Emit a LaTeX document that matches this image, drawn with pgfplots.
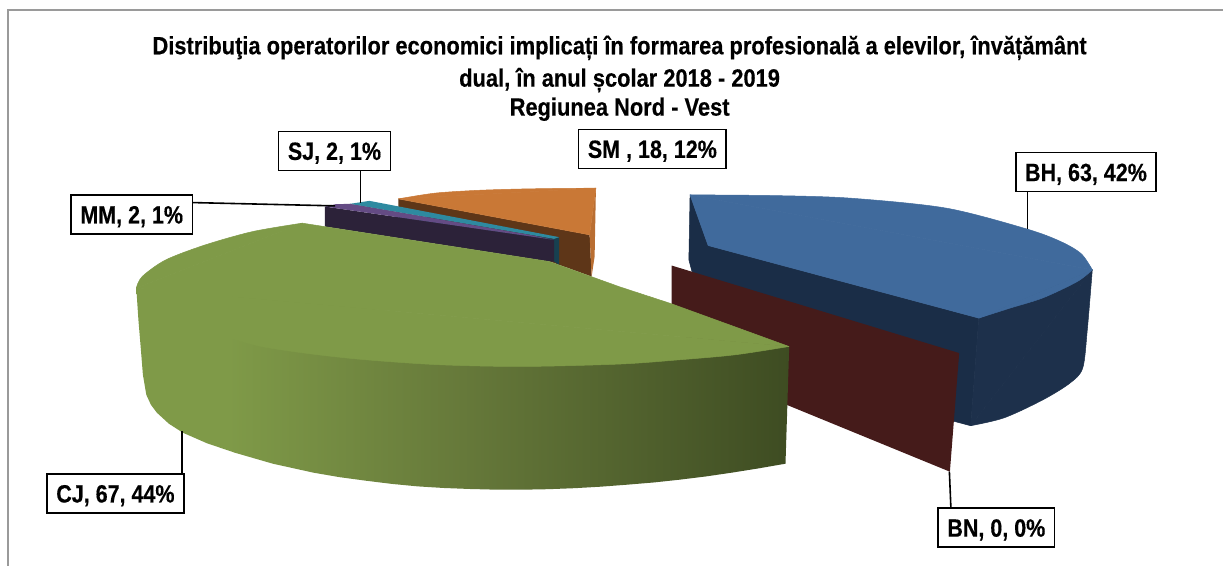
\documentclass[border=0pt]{standalone}
\usepackage{pgfplots}
\pgfplotsset{compat=1.18}
\usepackage{fontspec}
\setmainfont{Liberation Sans}[BoldFeatures={FakeBold=0.4}]
\definecolor{bluetop}{HTML}{406A9C}
\definecolor{bluedark}{HTML}{1A2D47}
\definecolor{blueouter}{HTML}{1D304B}
\definecolor{maroon}{HTML}{451B1A}
\definecolor{greentop}{HTML}{7F9A48}
\definecolor{greenmid}{HTML}{66793A}
\definecolor{greendark}{HTML}{3E4C22}
\definecolor{orangetop}{HTML}{C97836}
\definecolor{brownside}{HTML}{5E3618}
\definecolor{purpletop}{HTML}{644B84}
\definecolor{purpledark}{HTML}{2C2239}
\definecolor{tealtop}{HTML}{2E8AA0}
\definecolor{tealdark}{HTML}{174050}
\definecolor{framegray}{HTML}{9A9A9A}
\pgfdeclarehorizontalshading{greenside}{100bp}{color(0bp)=(greentop); color(25bp)=(greentop); color(32bp)=(greentop); color(50bp)=(greenmid); color(75bp)=(greendark); color(100bp)=(greendark)}
\newcommand{\lab}[1]{\fontsize{25}{25}\selectfont\bfseries\scalebox{0.86}[1]{#1}}
\newcommand{\ttl}[1]{\fontsize{25}{25}\selectfont\bfseries\scalebox{0.875}[1]{#1}}
\tikzset{pc/.style={draw=#1, fill=#1, line width=0.5pt, line join=round}}
\begin{document}
\begin{tikzpicture}
\begin{axis}[
  scale only axis, width=1224pt, height=566pt,
  xmin=0, xmax=1224, ymin=0, ymax=566, y dir=reverse,
  enlargelimits=false, hide axis, clip=false]
% background and frame
\addplot[draw=none, fill=white] coordinates {(0,0)(1224,0)(1224,566)(0,566)} -- cycle;
\addplot[framegray, line width=1.6pt] coordinates {(8,566)(8,10)(1224,10)};
% SM
\addplot[draw=none, fill=brownside] coordinates {(398.6,199)(590,235)(592,276.7)(559.5,265)(398.6,207)} -- cycle;
\addplot[draw=none, fill=orangetop!92!black] coordinates {(596.3,188.3)(595,256.7)(592,276.7)(590,235)} -- cycle;
\addplot[pc=orangetop] coordinates {(398.6,199)(596.3,188.3)(590,235)} -- cycle;
\addplot[smooth, pc=orangetop] coordinates {(398.6,199)(435,193.3)(475,190.6)(514,189.3)(555,188.6)(596.3,188.3)} -- cycle;
% SJ
\addplot[draw=none, fill=tealdark] coordinates {(350,204)(554.4,239)(559.5,237.3)(559.5,265)(554.4,261.7)} -- cycle;
\addplot[draw=none, fill=tealtop] coordinates {(350,204)(369.7,201)(559.5,237.3)(554.4,239)} -- cycle;
% MM
\addplot[draw=none, fill=purpledark] coordinates {(325,206.7)(554.4,240)(554.4,261.7)(549.6,261.7)(325,226.7)} -- cycle;
\addplot[draw=none, fill=purpletop] coordinates {(325,206.7)(336,204.3)(350,204)(530,235)(554.4,240)} -- cycle;
% BH sides
\addplot[pc=bluedark] coordinates {(690.5,195)(689.3,260)(692.4,271.7)(955,421.7)(971.3,426)(979.4,318.3)(708.6,245.7)} -- cycle;
\addplot[pc=blueouter] coordinates {(979.4,318.3)(1093,270)(971.3,426)} -- cycle;
\addplot[smooth, pc=blueouter] coordinates {(1093,270)(1088,330)(1083.4,368.3)(1070.7,383.3)(1043.7,400)(1005,418)(971.3,426)} -- cycle;
% BH top
\addplot[pc=bluetop] coordinates {(690.5,195)(1093,270)(979.4,318.3)(708.6,245.7)} -- cycle;
\addplot[smooth, pc=bluetop] coordinates {(690.5,195)(774,195.7)(851,198.3)(947,208.3)(1028,229.3)(1062,242)(1082,254)(1093,270)} -- cycle;
\addplot[smooth, pc=bluetop] coordinates {(1093,270)(1078,281.7)(1043.7,298)(1010,308.5)(979.4,318.3)} -- cycle;
% BN
\addplot[draw=none, fill=maroon] coordinates {(672,265.7)(959.8,353.3)(950.5,472)(787,405)(672,330)} -- cycle;
% CJ side
\addplot[draw=none, shading=greenside] coordinates {(136.4,288.3)(138.5,320)(141,350)(143,375)(146.4,395)(151,405)(157,413)(169,424)(183,433)(207,443.5)(235,453)(273,464)(313.8,473)(340,477.5)(366,481)(392,484.2)(418,486.7)(444,488.3)(470,489.3)(497,490)(523,490)(549,489.5)(575,488.5)(601,487)(627.6,485)(654,482.8)(680,480)(706,476.8)(732,473)(759,468.7)(786,464)(789.7,347)(620,340)(300,300)} -- cycle;
% CJ top
\addplot[pc=greentop] coordinates {(136.4,288.3)(302.5,223.3)(549.6,261.7)(620,287)(672,304)(789.5,346.7)} -- cycle;
\addplot[smooth, pc=greentop] coordinates {(136.4,288.3)(142.3,276.7)(166,260)(205.6,245)(253,231.7)(302.5,223.3)} -- cycle;
\addplot[smooth, pc=greentop] coordinates {(789.5,346.7)(735.6,355)(680,360)(620,364.3)(523,366.7)(440,365)(366,360)(310,354)(261.5,346.7)(225,337)(190,326.7)(165,318)(145,306)(136.4,288.3)} -- cycle;
% leader lines
\addplot[black, line width=1.6pt] coordinates {(360.6,170.7)(360.6,202.7)};
\addplot[black, line width=1.6pt] coordinates {(192.6,202.7)(335.3,206)};
\addplot[black, line width=1.6pt] coordinates {(1028.3,191.7)(1028.3,229.3)};
\addplot[black, line width=1.6pt] coordinates {(182,431.7)(182,474.3)};
\addplot[black, line width=1.6pt] coordinates {(950,472)(951.5,508)};
% title
\node[anchor=base] at (axis cs:620,54.3) {\ttl{Distribuţia operatorilor economici implicați în formarea profesională a elevilor, învățământ}};
\node[anchor=base] at (axis cs:620,86.7) {\ttl{dual, în anul școlar 2018 - 2019}};
\node[anchor=base] at (axis cs:620,115.7) {\ttl{Regiunea Nord - Vest}};
% labels
\tikzset{lb/.style={draw=black, fill=white, line width=1.6pt, inner sep=0pt, minimum height=39pt, text height=18pt, text depth=0pt, anchor=center}}
\node[lb, minimum width=112pt] at (axis cs:334.7,151) {\lab{SJ, 2, 1\%}};
\node[lb, minimum width=121.6pt] at (axis cs:131.8,214.6) {\lab{MM, 2, 1\%}};
\node[lb, minimum width=147.7pt] at (axis cs:652.8,149) {\lab{SM , 18, 12\%}};
\node[lb, minimum width=139.8pt] at (axis cs:1086.7,172.2) {\lab{BH, 63, 42\%}};
\node[lb, minimum width=137pt] at (axis cs:115.5,493.8) {\lab{CJ, 67, 44\%}};
\node[lb, minimum width=116.3pt] at (axis cs:997,528) {\lab{BN, 0, 0\%}};
\end{axis}
\end{tikzpicture}
\end{document}
